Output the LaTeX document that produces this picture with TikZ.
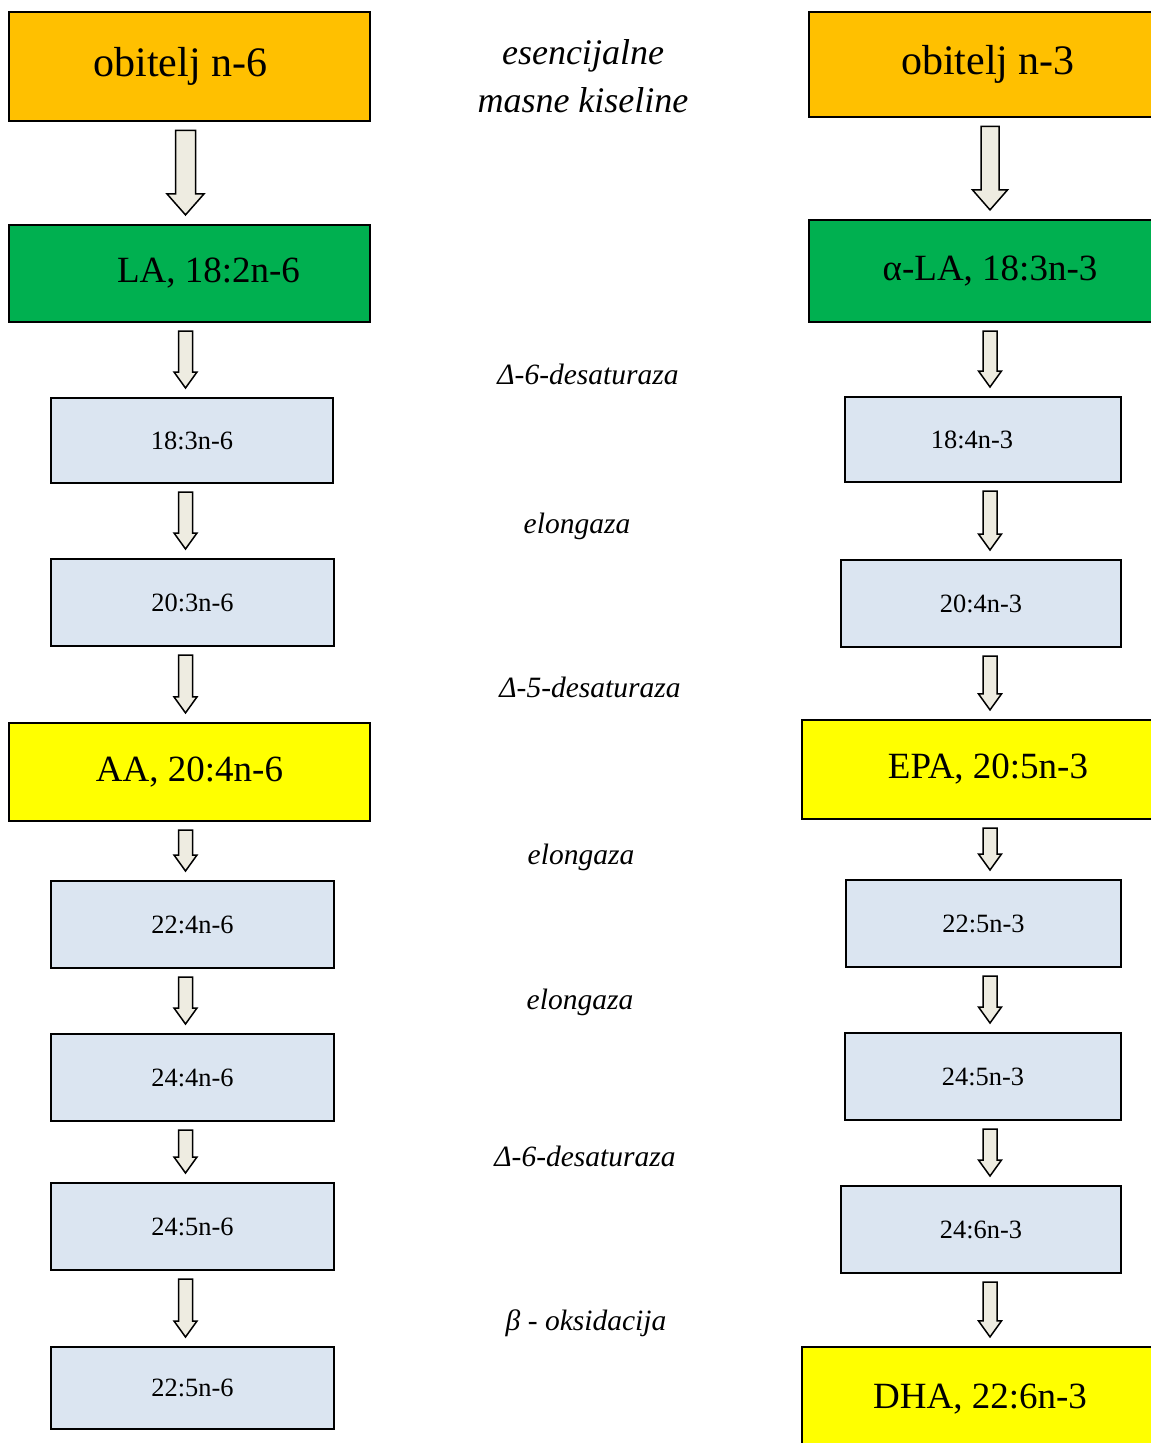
\documentclass[tikz,border=0pt]{standalone}
\usepackage{fontspec}
\setmainfont{Liberation Serif}
\usetikzlibrary{calc}

\definecolor{famorange}{RGB}{255,192,0}
\definecolor{lagreen}{RGB}{0,176,80}
\definecolor{keyyellow}{RGB}{255,255,0}
\definecolor{stepblue}{RGB}{219,229,241}
\definecolor{arrowfill}{RGB}{238,236,225}

\tikzset{every picture/.style={line width=0.75pt}}
\tikzset{
  family/.style={draw, line width=2.5pt, fill=famorange, inner sep=0pt, font=\fontsize{42}{48}\selectfont},
  keyacid/.style={draw, line width=2.2pt, inner sep=0pt, font=\fontsize{37}{44}\selectfont},
  midacid/.style={draw, line width=2pt, fill=stepblue, inner sep=0pt, font=\fontsize{26.4}{32}\selectfont},
  enzyme/.style={inner sep=0.75pt, font=\itshape\fontsize{29.5}{35}\selectfont},
  blockarr/.style={draw, line width=1.5pt, fill=arrowfill, line join=miter},
}

% block arrow: from, to, column, shaft half width, head half width, head length
\newcommand{\blockarrow}[6]{%
  \coordinate (ta) at ($(#1.south -| #3)+(0,8)$);
  \coordinate (tb) at ($(#2.north -| #3)+(0,-9)$);
  \draw[blockarr] ($(ta)+(-#4,0)$) -- ($(tb)+(-#4,-#6)$) -- ($(tb)+(-#5,-#6)$) -- (tb) -- ($(tb)+(#5,-#6)$) -- ($(tb)+(#4,-#6)$) -- ($(ta)+(#4,0)$) -- cycle;
}

\begin{document}
\begin{tikzpicture}[x=1pt,y=1pt,yscale=-1,xscale=1]
        \path[use as bounding box, clip] (0,0) rectangle (1151,1443);
        \coordinate (colL) at (185.5,0);
        \coordinate (colR) at (990,0);

        % n-6 column
        \node[family, minimum width=361, minimum height=109] (fam6) at (189.5,66.5) {\hspace*{-18pt}obitelj n-6};
        \node[keyacid, fill=lagreen, minimum width=361, minimum height=97] (la) at (189.5,273.5) {\hspace*{38pt}LA, 18:2n-6};
        \node[midacid, minimum width=282, minimum height=85] (a1836) at (192,440.5) {18:3n-6};
        \node[midacid, minimum width=283, minimum height=87] (a2036) at (192.5,602.5) {20:3n-6};
        \node[keyacid, fill=keyyellow, minimum width=361, minimum height=98] (aa) at (189.5,772) {AA, 20:4n-6};
        \node[midacid, minimum width=283, minimum height=87] (a2246) at (192.5,924.5) {22:4n-6};
        \node[midacid, minimum width=283, minimum height=87] (a2446) at (192.5,1077.5) {24:4n-6};
        \node[midacid, minimum width=283, minimum height=87] (a2456) at (192.5,1226.5) {24:5n-6};
        \node[midacid, minimum width=283, minimum height=82] (a2256) at (192.5,1388) {22:5n-6};

        % n-3 column
        \node[family, minimum width=358, minimum height=105] (fam3) at (988,64.5) {obitelj n-3};
        \node[keyacid, fill=lagreen, minimum width=362, minimum height=102] (ala) at (990,271) {α-LA, 18:3n-3};
        \node[midacid, minimum width=276, minimum height=85] (a1843) at (983,439.5) {\hspace*{-22pt}18:4n-3};
        \node[midacid, minimum width=280, minimum height=87] (a2043) at (981,603.5) {20:4n-3};
        \node[keyacid, fill=keyyellow, minimum width=372, minimum height=99] (epa) at (988,769.5) {EPA, 20:5n-3};
        \node[midacid, minimum width=275, minimum height=87] (a2253) at (983.5,923.5) {22:5n-3};
        \node[midacid, minimum width=276, minimum height=87] (a2453) at (983,1076.5) {24:5n-3};
        \node[midacid, minimum width=280, minimum height=87] (a2463) at (981,1229.5) {24:6n-3};
        \node[keyacid, fill=keyyellow, minimum width=356, minimum height=104] (dha) at (980,1399) {DHA, 22:6n-3};

        % Text Node
        \node[enzyme, align=center, font=\itshape\fontsize{36}{48}\selectfont] (efa) at (583,76) {esencijalne\\masne kiseline};
        \node[enzyme] (enz1) at (588,374) {Δ-6-desaturaza};
        \node[enzyme] (enz2) at (577,526) {elongaza};
        \node[enzyme] (enz3) at (590,687) {Δ-5-desaturaza};
        \node[enzyme] (enz4) at (581,857) {elongaza};
        \node[enzyme] (enz5) at (580,1002) {elongaza};
        \node[enzyme] (enz6) at (585,1156) {Δ-6-desaturaza};
        \node[enzyme] (enz7) at (586,1323) {β - oksidacija};

        % arrows n-6
        \blockarrow{fam6}{la}{colL}{10}{18.5}{21}
        \blockarrow{la}{a1836}{colL}{7}{11.5}{16}
        \blockarrow{a1836}{a2036}{colL}{7}{11.5}{16}
        \blockarrow{a2036}{aa}{colL}{7}{11.5}{16}
        \blockarrow{aa}{a2246}{colL}{7}{11.5}{16}
        \blockarrow{a2246}{a2446}{colL}{7}{11.5}{16}
        \blockarrow{a2446}{a2456}{colL}{7}{11.5}{16}
        \blockarrow{a2456}{a2256}{colL}{7}{11.5}{16}

        % arrows n-3
        \blockarrow{fam3}{ala}{colR}{9}{17.5}{20}
        \blockarrow{ala}{a1843}{colR}{7}{11.5}{16}
        \blockarrow{a1843}{a2043}{colR}{7}{11.5}{16}
        \blockarrow{a2043}{epa}{colR}{7}{11.5}{16}
        \blockarrow{epa}{a2253}{colR}{7}{11.5}{16}
        \blockarrow{a2253}{a2453}{colR}{7}{11.5}{16}
        \blockarrow{a2453}{a2463}{colR}{7}{11.5}{16}
        \blockarrow{a2463}{dha}{colR}{7}{11.5}{16}

\end{tikzpicture}
\end{document}
